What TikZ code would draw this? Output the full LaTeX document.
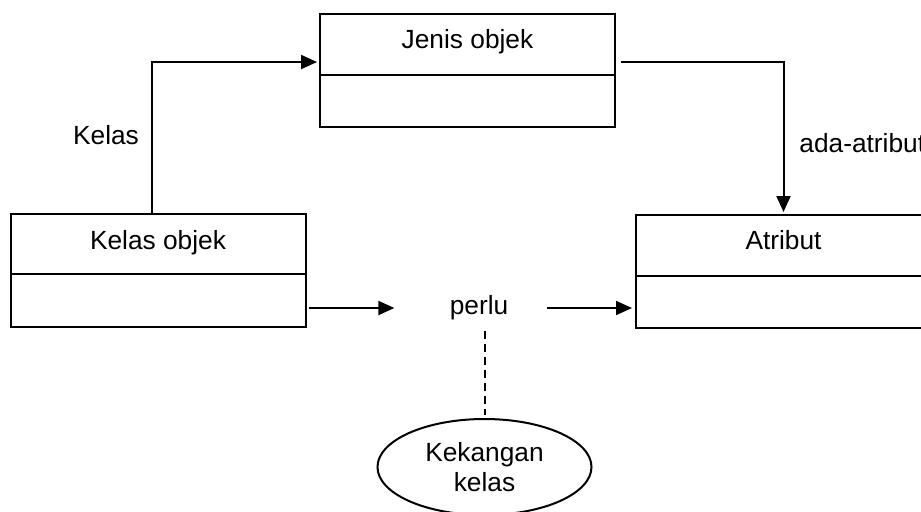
\documentclass[tikz,border=0pt]{standalone}
\usepackage{fontspec}
\setmainfont{Liberation Sans}
\usetikzlibrary{arrows.meta,shapes.geometric,calc}
\tikzset{
  box/.style={draw, line width=1pt, minimum width=147.5pt, minimum height=56.5pt, inner sep=0pt},
  lbl/.style={inner sep=0pt, anchor=base},
  arr/.style={line width=1pt, -{Triangle[length=8pt,width=7pt]}},
  conn/.style={line width=1pt},
  oval/.style={draw, ellipse, line width=1pt, minimum width=107pt, minimum height=48pt, inner sep=0pt, align=center}
}
\begin{document}
\begin{tikzpicture}[x=0.5pt,y=-0.5pt, font=\fontsize{13.15}{15}\selectfont]
\useasboundingbox (0,0) rectangle (921,511);
% boxes
\node[box] (jo) at (467.5,70) {};
\node[box] (ko) at (158,270.5) {};
\node[box] (at) at (783.5,271.5) {};
\draw[conn] ([yshift=-31pt]jo.north west) -- ([yshift=-31pt]jo.north east);
\draw[conn] ([yshift=-30.5pt]ko.north west) -- ([yshift=-30.5pt]ko.north east);
\draw[conn] ([yshift=-31pt]at.north west) -- ([yshift=-31pt]at.north east);
\node[lbl] (jot) at ([yshift=-18pt]jo.north) {Jenis objek};
\node[lbl] (kot) at ([yshift=-18pt]ko.north) {Kelas objek};
\node[lbl] (att) at ([yshift=-17.5pt]at.north) {Atribut};
% middle texts
\node[inner sep=0pt] (perlu) at (479,308) {perlu};
\node[oval] (kek) at (484.5,467) {Kekangan\\kelas};
% edge labels
\node[lbl] (kl) at (106,144) {Kelas};
\node[lbl, anchor=base west] (aa) at (799,152) {ada-atribut};
% connectors
\draw[arr, shorten >=1pt] ([xshift=-3.25pt]ko.north) |- ([yshift=4pt]jo.west);
\draw[arr, shorten >=1pt] ([xshift=2.5pt,yshift=4pt]jo.east) -| (at.north);
\draw[arr] ($(ko.east |- perlu)+(2,0)$) -- ($(perlu.west)+(-55,0)$);
\draw[arr, shorten >=1.5pt] ($(perlu.east)+(38,0)$) -- (at.west |- perlu);
\draw[conn, dash pattern=on 4pt off 2.5pt, shorten >=1.5pt] ($(perlu.south -| kek.north)+(0,10)$) -- (kek.north);
\end{tikzpicture}
\end{document}
